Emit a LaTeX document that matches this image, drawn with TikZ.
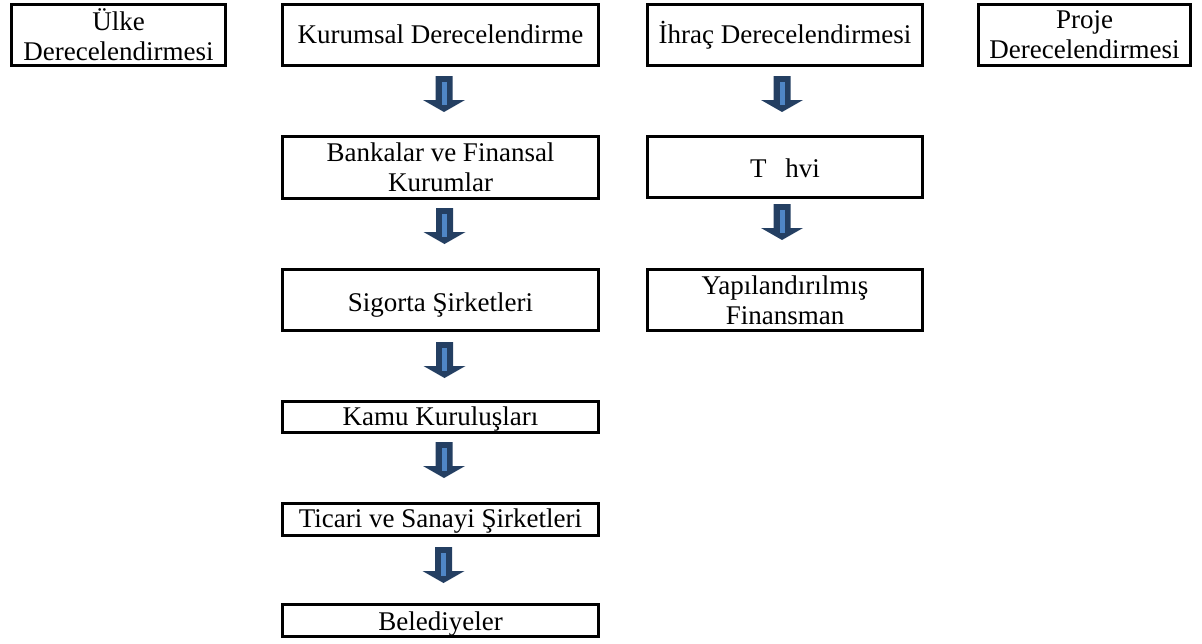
\documentclass[tikz,border=0pt]{standalone}
\usepackage{fontspec}
\setmainfont{Liberation Serif}
\definecolor{arrowdark}{HTML}{243F62}
\definecolor{arrowlight}{HTML}{4F86C6}
\tikzset{
  box/.style={draw=black, line width=3pt, rectangle, inner sep=0pt, align=center,
    font=\fontsize{27pt}{30pt}\selectfont},
  onebox/.style={box, text height=21.6pt, text depth=5.4pt},
  barrow/.pic={
    \fill[arrowdark] (-8.5,0) -- (8.5,0) -- (8.5,24) -- (21,24) -- (0,36) -- (-21,24) -- (-8.5,24) -- cycle;
    \fill[arrowlight] (-2.5,6) rectangle (2.5,29);
  }
}
\begin{document}
\begin{tikzpicture}[x=1pt,y=-1pt]
\useasboundingbox (0,0) rectangle (1202,643);
% top row
\node[box, minimum width=214pt, minimum height=61pt] (ulke) at (118.5,35) {Ülke\\Derecelendirmesi};
\node[onebox, minimum width=316pt, minimum height=61pt] (kur) at (440.5,35) {Kurumsal Derecelendirme};
\node[onebox, minimum width=275pt, minimum height=61pt] (ihrac) at (785,35) {İhraç Derecelendirmesi};
\node[box, minimum width=212pt, minimum height=61pt] (proje) at (1084.5,35) {Proje\\Derecelendirmesi};
% left column
\node[box, minimum width=316pt, minimum height=62pt] (bank) at (440.5,167.5) {Bankalar ve Finansal\\Kurumlar};
\node[box, minimum width=316pt, minimum height=61pt, text height=27pt, text depth=3.2pt] (sig) at (440.5,300) {Sigorta Şirketleri};
\node[onebox, minimum width=316pt, minimum height=31pt] (kamu) at (440.5,417) {Kamu Kuruluşları};
\node[onebox, minimum width=316pt, minimum height=32pt] (tic) at (440.5,519.5) {Ticari ve Sanayi Şirketleri};
\node[onebox, minimum width=316pt, minimum height=32pt, text height=23pt, text depth=4pt] (bel) at (440.5,620.5) {Belediyeler};
% right column
\node[box, minimum width=275pt, minimum height=61pt, text height=24.3pt, text depth=4.3pt] (tah) at (785,167) {T\hspace{0.7em}hvi};
\node[box, minimum width=275pt, minimum height=61pt] (yap) at (785,300) {Yapılandırılmış\\Finansman};
% block arrows
\path (kur.south) ++(3.5,9) pic {barrow};
\path (bank.south) ++(4,8) pic {barrow};
\path (sig.south) ++(4,10) pic {barrow};
\path (kamu.south) ++(3.5,8) pic {barrow};
\path (tic.south) ++(3,10) pic {barrow};
\path (ihrac.south) ++(-3,9) pic {barrow};
\path (tah.south) ++(-3,5) pic {barrow};
\end{tikzpicture}
\end{document}
